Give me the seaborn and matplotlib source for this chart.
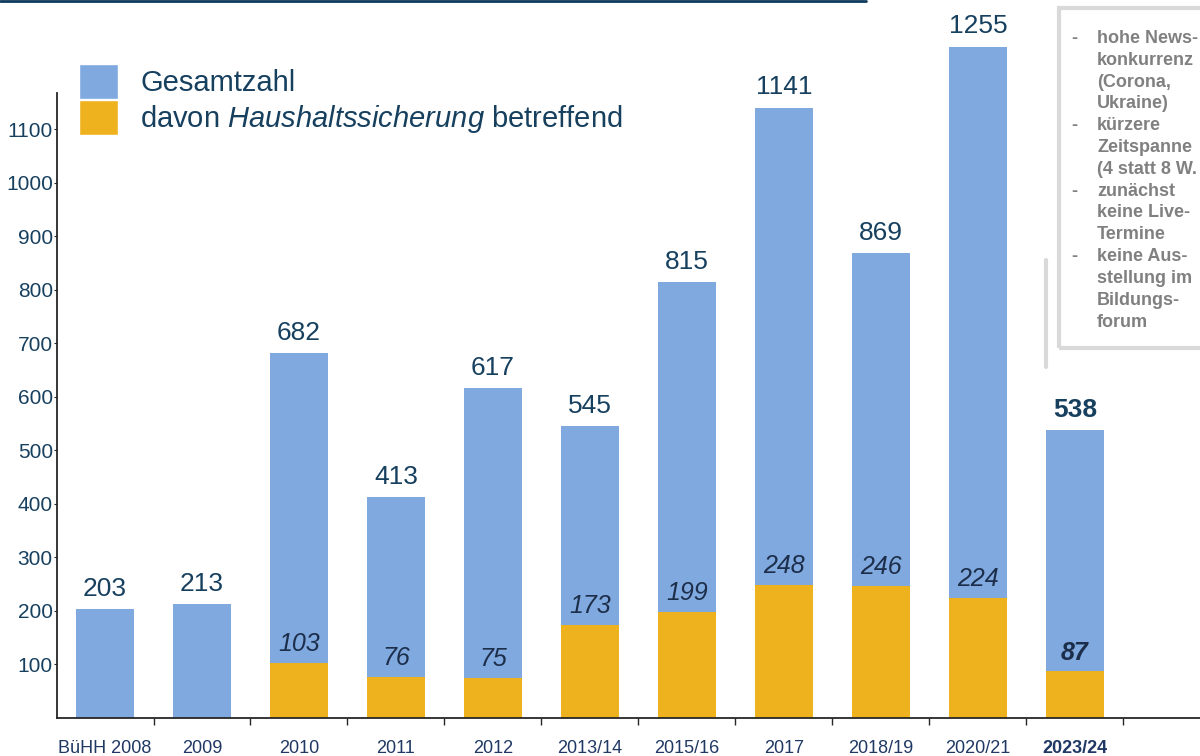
import numpy as np
import pandas as pd
import matplotlib
matplotlib.use("Agg")
import matplotlib.pyplot as plt
import seaborn as sns
from matplotlib.patches import Patch, Rectangle
from matplotlib.lines import Line2D

# data
years = ["BüHH 2008", "2009", "2010", "2011", "2012", "2013/14",
         "2015/16", "2017", "2018/19", "2020/21", "2023/24"]
gesamt = [203, 213, 682, 413, 617, 545, 815, 1141, 869, 1255, 538]
haushalt = [np.nan, np.nan, 103, 76, 75, 173, 199, 248, 246, 224, 87]
y_ticks = [100, 200, 300, 400, 500, 600, 700, 800, 900, 1000, 1100]
notes = ["hohe News-\nkonkurrenz\n(Corona,\nUkraine)",
         "kürzere\nZeitspanne\n(4 statt 8 W.",
         "zunächst\nkeine Live-\nTermine",
         "keine Aus-\nstellung im\nBildungs-\nforum"]

BLUE = "#80a9df"
YELLOW = "#eeb21f"
NAVY = "#17405f"
DARK = "#1c2e4a"
GREY = "#808080"

sns.set_style("white")
plt.rcParams["font.family"] = ["Liberation Sans", "DejaVu Sans"]
plt.rcParams["mathtext.fontset"] = "custom"
plt.rcParams["mathtext.rm"] = "Liberation Sans"
plt.rcParams["mathtext.it"] = "Liberation Sans:italic"

df = pd.DataFrame({"jahr": years, "gesamt": gesamt, "haushalt": haushalt})

fig = plt.figure(figsize=(12, 7.56), dpi=100)
ax = fig.add_axes([57 / 1200, 1 - 718 / 756, 1 - 57 / 1200, 718 / 756])

sns.barplot(data=df, x="jahr", y="gesamt", color=BLUE, width=0.6,
            saturation=1, linewidth=0, ax=ax)
sns.barplot(data=df, x="jahr", y="haushalt", color=YELLOW, width=0.6,
            saturation=1, linewidth=0, ax=ax)

ax.set_xlim(-0.495, 11.29)
ax.set_ylim(0, 1342)
ax.set_xlabel("")
ax.set_ylabel("")

# value labels
for i, v in enumerate(gesamt):
    last = i == len(gesamt) - 1
    ax.annotate(str(v), (i, v), xytext=(0, 6), textcoords="offset points",
                ha="center", va="bottom", fontsize=19, color=NAVY,
                fontweight="bold" if last else "normal")
for i, v in enumerate(haushalt):
    if np.isnan(v):
        continue
    last = i == len(haushalt) - 1
    ax.annotate(str(int(v)), (i, v), xytext=(0, 5), textcoords="offset points",
                ha="center", va="bottom", fontsize=18, color=DARK,
                style="italic", fontweight="bold" if last else "normal")

# axes styling
for s in ["top", "right"]:
    ax.spines[s].set_visible(False)
ax.spines["left"].set_bounds(0, 1168)
ax.spines["left"].set_linewidth(1.3)
ax.spines["bottom"].set_linewidth(1.3)
ax.set_yticks(y_ticks)
ax.set_yticklabels([str(t) for t in y_ticks])
ax.tick_params(axis="y", length=2, width=0.8, pad=1, labelsize=15,
               labelcolor=NAVY, left=True)
ax.tick_params(axis="x", length=0, pad=16, labelsize=13, labelcolor="#1f3864")
ax.set_xticks(np.arange(len(years)) + 0.5, minor=True)
ax.tick_params(axis="x", which="minor", length=5, width=1, direction="out",
               bottom=True)
for lab in ax.get_xticklabels():
    if lab.get_text() == "2023/24":
        lab.set_fontweight("bold")

# legend
handles = [Patch(facecolor=BLUE, edgecolor="white"),
           Patch(facecolor=YELLOW, edgecolor="white")]
ax.legend(handles, ["Gesamtzahl",
                    "davon $\\mathit{Haushaltssicherung}$ betreffend"],
          loc="upper left", bbox_to_anchor=(79 / 1200, 1 - 64 / 756),
          bbox_transform=fig.transFigure, frameon=False, fontsize=21,
          labelcolor=NAVY, handlelength=1.35, handleheight=1.45,
          handletextpad=0.75, labelspacing=0.05, borderaxespad=0,
          borderpad=0)

# top rule and side note box
fig.add_artist(Line2D([0, 866 / 1200], [1 - 1 / 756, 1 - 1 / 756],
                      color="#0d3a5c", lw=2))
fig.add_artist(Line2D([1046 / 1200, 1046 / 1200],
                      [1 - 260 / 756, 1 - 367 / 756], color="#d9d9d9", lw=3))
fig.add_artist(Rectangle((1059 / 1200, 1 - 348 / 756), 160 / 1200, 340 / 756,
                         fill=False, edgecolor="#d9d9d9", lw=3))
fig.text(1097 / 1200, 1 - 30 / 756, "\n".join(notes), ha="left", va="top",
         fontsize=13, fontweight="bold", color=GREY, linespacing=1.37)
dashes = "\n".join("-" + "\n" * (n.count("\n")) for n in notes)
fig.text(1071 / 1200, 1 - 30 / 756, dashes, ha="left", va="top",
         fontsize=13, fontweight="bold", color=GREY, linespacing=1.37)

fig.savefig("out.png", dpi=100)
